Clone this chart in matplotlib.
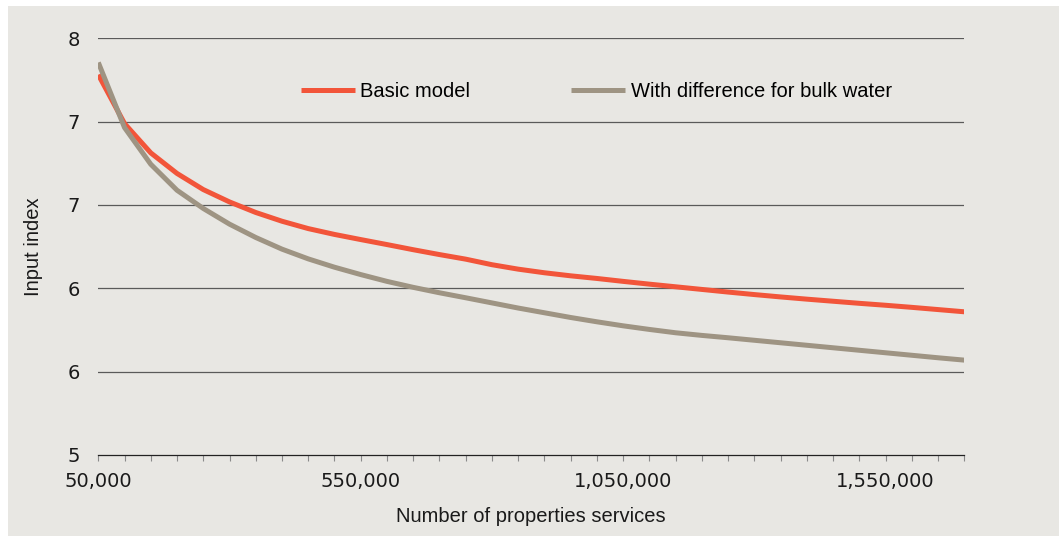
import matplotlib.pyplot as plt
import numpy as np
from matplotlib.patches import Rectangle

plt.rcParams['font.family'] = ['Liberation Sans', 'DejaVu Sans']

# properties served, 50,000 steps (category axis)
properties = list(range(50000, 1700001, 50000))

basic_model = [7.738, 7.386, 7.175, 7.027, 6.911, 6.822, 6.746, 6.683, 6.630, 6.588,
               6.551, 6.515, 6.478, 6.443, 6.410, 6.370, 6.338, 6.312, 6.290, 6.271,
               6.250, 6.230, 6.211, 6.192, 6.173, 6.155, 6.138, 6.122, 6.107, 6.092,
               6.078, 6.063, 6.047, 6.031]

bulk_water = [7.826, 7.357, 7.093, 6.906, 6.775, 6.662, 6.566, 6.482, 6.412, 6.352,
              6.299, 6.250, 6.207, 6.168, 6.132, 6.095, 6.058, 6.024, 5.990, 5.959,
              5.930, 5.904, 5.880, 5.861, 5.844, 5.826, 5.808, 5.790, 5.772, 5.754,
              5.736, 5.718, 5.700, 5.683]

y_ticks = [5.0, 5.6, 6.2, 6.8, 7.4, 8.0]
label_every = 10

bg = '#E8E7E3'
red = '#F2553A'
taupe = '#9E9483'

fig = plt.figure(figsize=(10.59, 5.36), dpi=100)
fig.patch.set_facecolor('white')
fig.add_artist(Rectangle((8 / 1059, 0), 1 - 8 / 1059, 530 / 536, transform=fig.transFigure,
                         facecolor=bg, edgecolor='none', zorder=-10))

ax = fig.add_axes([98.3 / 1059, 81 / 536, 866 / 1059, 416.7 / 536])
ax.set_facecolor('none')

x = np.arange(len(properties))
ax.plot(x, basic_model, color=red, lw=3.6, solid_capstyle='butt', label='Basic model', zorder=3)
ax.plot(x, bulk_water, color=taupe, lw=3.6, solid_capstyle='butt',
        label='With difference for bulk water', zorder=3)

ax.set_xlim(0, len(properties) - 1)
ax.set_ylim(5.0, 8.0)

ax.set_xticks(x)
ax.set_xticklabels([f'{p:,}' if i % label_every == 0 else '' for i, p in enumerate(properties)])
ax.set_yticks(y_ticks)
ax.set_yticklabels([f'{v:.0f}' for v in y_ticks])

ax.tick_params(axis='x', length=4.5, width=0.8, color='#8a8a8a', labelsize=14, pad=8,
               labelcolor='#1a1a1a')
ax.tick_params(axis='y', length=0, labelsize=14, pad=13, labelcolor='#1a1a1a')
for lbl in ax.get_xticklabels() + ax.get_yticklabels():
    lbl.set_family('DejaVu Sans')

for g in y_ticks[1:]:
    ax.axhline(g, color='#5a5a5a', lw=0.9, zorder=1)

for s in ['top', 'right', 'left']:
    ax.spines[s].set_visible(False)
ax.spines['bottom'].set_color('#222222')
ax.spines['bottom'].set_linewidth(0.9)

ax.set_xlabel('Number of properties services', fontsize=14.5, labelpad=11, color='#1a1a1a')
ax.set_ylabel('Input index', fontsize=14.5, labelpad=18, color='#1a1a1a')

fig.legend(loc='center left', bbox_to_anchor=(301 / 1059, 1 - 92 / 536), ncol=2,
           frameon=False, fontsize=14.5, handlelength=2.7, handletextpad=0.25,
           columnspacing=5.0, borderpad=0, borderaxespad=0)

fig.savefig('out.png', dpi=100)
